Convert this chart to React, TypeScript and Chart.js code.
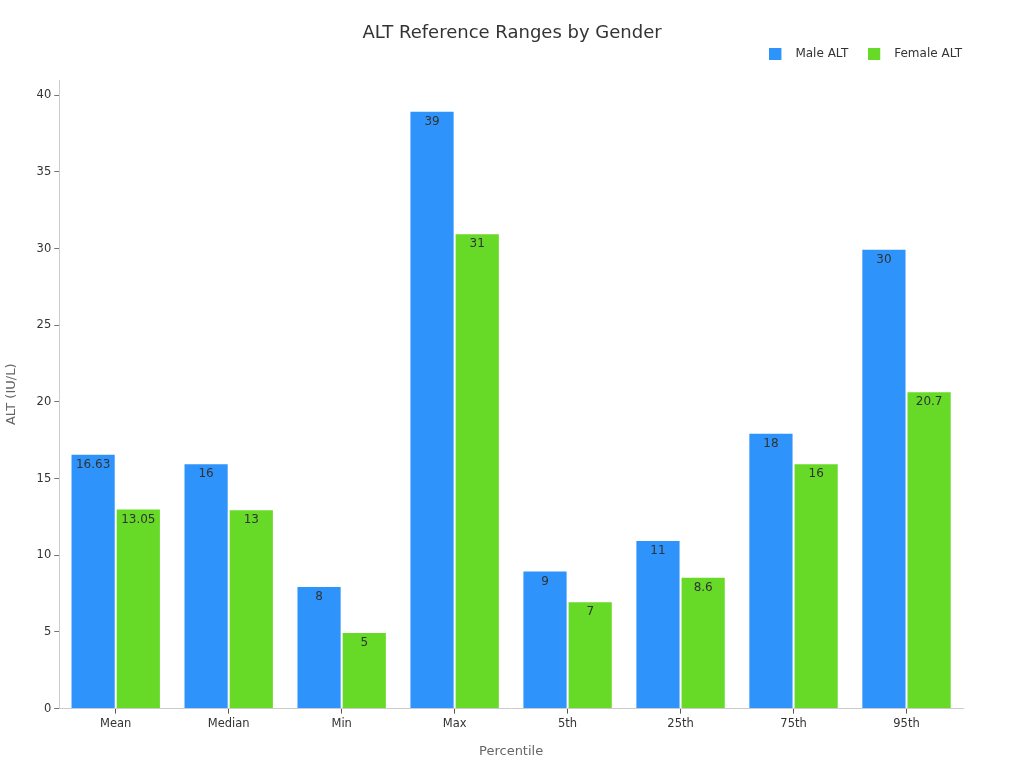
import React, { useEffect, useRef } from 'react';
import { Chart, registerables, Plugin } from 'chart.js';

Chart.register(...registerables);

const percentiles = ['Mean', 'Median', 'Min', 'Max', '5th', '25th', '75th', '95th'];
const maleAlt = [16.63, 16, 8, 39, 9, 11, 18, 30];
const femaleAlt = [13.05, 13, 5, 31, 7, 8.6, 16, 20.7];
const chartTitle = 'ALT Reference Ranges by Gender';

const FONT = "'DejaVu Sans', sans-serif";
const BLUE = '#2E93FA';
const GREEN = '#66DA26';

// square swatch with empty room on its right, so the legend text sits further off
function swatch(color: string) {
  const c = document.createElement('canvas');
  c.width = 20;
  c.height = 12;
  const g = c.getContext('2d')!;
  g.fillStyle = color;
  g.fillRect(0, 0, 12, 12);
  return c;
}

// writes each value just inside the top of its bar
const barValues: Plugin<'bar'> = {
  id: 'barValues',
  afterDatasetsDraw(chart) {
    const ctx = chart.ctx;
    ctx.save();
    ctx.font = `12px ${FONT}`;
    ctx.fillStyle = '#333';
    ctx.textAlign = 'center';
    ctx.textBaseline = 'top';
    chart.data.datasets.forEach((ds, i) => {
      chart.getDatasetMeta(i).data.forEach((bar: any, j) => {
        ctx.fillText(String(ds.data[j]), bar.x, bar.y + 5);
      });
    });
    ctx.restore();
  },
};

// title centred on the whole canvas (the built-in one follows the padding)
const centredTitle: Plugin<'bar'> = {
  id: 'centredTitle',
  afterDraw(chart) {
    const ctx = chart.ctx;
    ctx.save();
    ctx.font = `18px ${FONT}`;
    ctx.fillStyle = '#333';
    ctx.textAlign = 'center';
    ctx.textBaseline = 'middle';
    ctx.fillText(chartTitle, chart.width / 2, 33);
    ctx.restore();
  },
};

// extra room between legend and plot, and legend pushed a little to the right
const legendTweak: Plugin<'bar'> = {
  id: 'legendTweak',
  beforeInit(chart: any) {
    const fit = chart.legend.fit;
    chart.legend.fit = function () {
      fit.bind(chart.legend)();
      this.height += 10;
    };
  },
  afterLayout(chart: any) {
    chart.legend.left += 19;
    chart.legend.right += 19;
  },
};

const App: React.FC = () => {
  const canvasRef = useRef<HTMLCanvasElement | null>(null);

  useEffect(() => {
    if (!canvasRef.current) return;
    const swatches = [swatch(BLUE), swatch(GREEN)];
    const chart = new Chart(canvasRef.current, {
      type: 'bar',
      data: {
        labels: percentiles,
        datasets: [
          {
            label: 'Male ALT',
            data: maleAlt,
            backgroundColor: BLUE,
            borderColor: 'rgba(255,255,255,0.6)',
            borderWidth: 1,
            categoryPercentage: 0.8,
            barPercentage: 1.0,
          },
          {
            label: 'Female ALT',
            data: femaleAlt,
            backgroundColor: GREEN,
            borderColor: 'rgba(255,255,255,0.6)',
            borderWidth: 1,
            categoryPercentage: 0.8,
            barPercentage: 1.0,
          },
        ],
      },
      options: {
        animation: false,
        responsive: false,
        layout: { padding: { left: 0, right: 61, top: 28, bottom: 9 } },
        plugins: {
          title: { display: false },
          legend: {
            align: 'end',
            labels: {
              usePointStyle: true,
              pointStyleWidth: 20,
              boxHeight: 12,
              color: '#333',
              font: { family: FONT, size: 12 },
              padding: 20,
              generateLabels: (ch) =>
                Chart.defaults.plugins.legend.labels
                  .generateLabels(ch)
                  .map((item, i) => ({ ...item, pointStyle: swatches[i] })),
            },
          },
          tooltip: { enabled: false },
        },
        scales: {
          x: {
            grid: { display: true, offset: false, drawOnChartArea: false, drawTicks: true, tickLength: 5, color: '#555' },
            border: { color: '#ccc' },
            ticks: { color: '#333', font: { family: FONT, size: 11.5 }, padding: 4 },
            title: {
              display: true,
              text: 'Percentile',
              color: '#666',
              font: { family: FONT, size: 13 },
              padding: { top: 8, bottom: 0 },
            },
          },
          y: {
            min: 0,
            max: 41,
            afterBuildTicks: (scale) => {
              scale.ticks = scale.ticks.filter((t) => t.value % 5 === 0);
            },
            grid: { display: true, drawOnChartArea: false, drawTicks: true, tickLength: 5, color: '#777' },
            border: { color: '#ccc' },
            ticks: { stepSize: 5, color: '#333', font: { family: FONT, size: 11.5 }, padding: 3 },
            title: {
              display: true,
              text: 'ALT (IU/L)',
              color: '#666',
              font: { family: FONT, size: 13 },
              padding: { top: 4, bottom: 14 },
            },
          },
        },
      },
      plugins: [barValues, centredTitle, legendTweak],
    });
    return () => chart.destroy();
  }, []);

  return (
    <div style={{ position: 'fixed', left: 0, top: 0, width: 1024, height: 768, background: '#fff' }}>
      <canvas ref={canvasRef} width={1024} height={768} />
    </div>
  );
};

export default App;
